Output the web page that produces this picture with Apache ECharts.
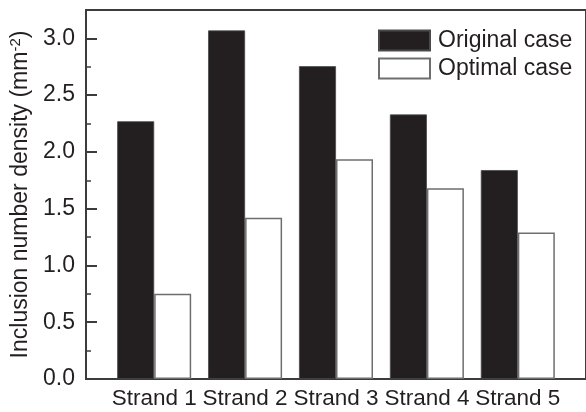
<!DOCTYPE html>
<html>
<head>
<meta charset="utf-8">
<script src="https://cdn.jsdelivr.net/npm/echarts@6/dist/echarts.min.js"></script>
<style>
  html, body { margin: 0; padding: 0; background: #fff; }
  #chart { width: 586px; height: 412px; }
</style>
</head>
<body>
<div id="chart"></div>
<script>
// Inclusion number density per strand, before and after optimisation
const strands = ['Strand 1', 'Strand 2', 'Strand 3', 'Strand 4', 'Strand 5'];
const originalCase = [2.27, 3.07, 2.755, 2.33, 1.84];
const optimalCase = [0.75, 1.42, 1.935, 1.68, 1.29];
const yTicks = [0, 0.5, 1.0, 1.5, 2.0, 2.5, 3.0];

const FONT = '"Liberation Sans", Arial, Helvetica, sans-serif';
const INK = '#231f20';
const AXIS = '#3c3c3c';

// strands sit at positions 1..5 on a numeric x axis
const positions = strands.map((_, i) => i + 1);

const chart = echarts.init(document.getElementById('chart'), null, { renderer: 'canvas' });

chart.setOption({
  animation: false,
  backgroundColor: '#fff',
  grid: {
    left: 86, right: -2, top: 10, bottom: 33,
    show: true, borderColor: AXIS, borderWidth: 2, backgroundColor: 'transparent'
  },
  legend: {
    left: 378, top: 29, orient: 'vertical', padding: 0,
    itemWidth: 51, itemHeight: 20, itemGap: 5,
    icon: 'rect',
    textStyle: { fontFamily: FONT, fontSize: 23, lineHeight: 20, color: INK, padding: [0, 0, 0, 3] },
    data: ['Original case', 'Optimal case']
  },
  xAxis: {
    type: 'value', min: 0.25, max: 5.75,
    splitLine: { show: false },
    axisLine: { show: true, lineStyle: { color: AXIS, width: 2 } },
    axisTick: { show: false },
    axisLabel: {
      customValues: positions,
      formatter: v => strands[Math.round(v) - 1] || '',
      fontFamily: FONT, fontSize: 22.5, color: INK, margin: 8
    }
  },
  yAxis: {
    type: 'value', min: 0, max: 3.25, interval: 0.5,
    name: 'Inclusion number density (mm{sup|-2})',
    nameLocation: 'middle', nameGap: 50, nameRotate: 90,
    nameTextStyle: {
      fontFamily: FONT, fontSize: 23, color: INK,
      rich: { sup: { fontFamily: FONT, fontSize: 15, color: INK, verticalAlign: 'top', padding: [0, 0, 9, 0] } }
    },
    splitLine: { show: false },
    axisLine: { show: true, lineStyle: { color: AXIS, width: 2 } },
    axisTick: { show: true, inside: true, length: 11, lineStyle: { color: AXIS, width: 2 } },
    minorTick: { show: true, splitNumber: 2, length: 5, lineStyle: { color: AXIS, width: 1.5 } },
    axisLabel: {
      showMaxLabel: false,
      formatter: v => (yTicks.indexOf(v) >= 0 ? v.toFixed(1) : ''),
      fontFamily: FONT, fontSize: 23, color: INK, margin: 11
    }
  },
  series: [
    {
      name: 'Original case', type: 'bar',
      barWidth: 37, barGap: '0%',
      itemStyle: { color: INK, borderColor: '#4a4a4a', borderWidth: 0.8 },
      data: positions.map((x, i) => [x, originalCase[i]])
    },
    {
      name: 'Optimal case', type: 'bar',
      barWidth: 37, barGap: '0%',
      itemStyle: { color: '#ffffff', borderColor: '#6e6e6e', borderWidth: 1.5 },
      data: positions.map((x, i) => [x, optimalCase[i]])
    }
  ]
});
</script>
</body>
</html>
